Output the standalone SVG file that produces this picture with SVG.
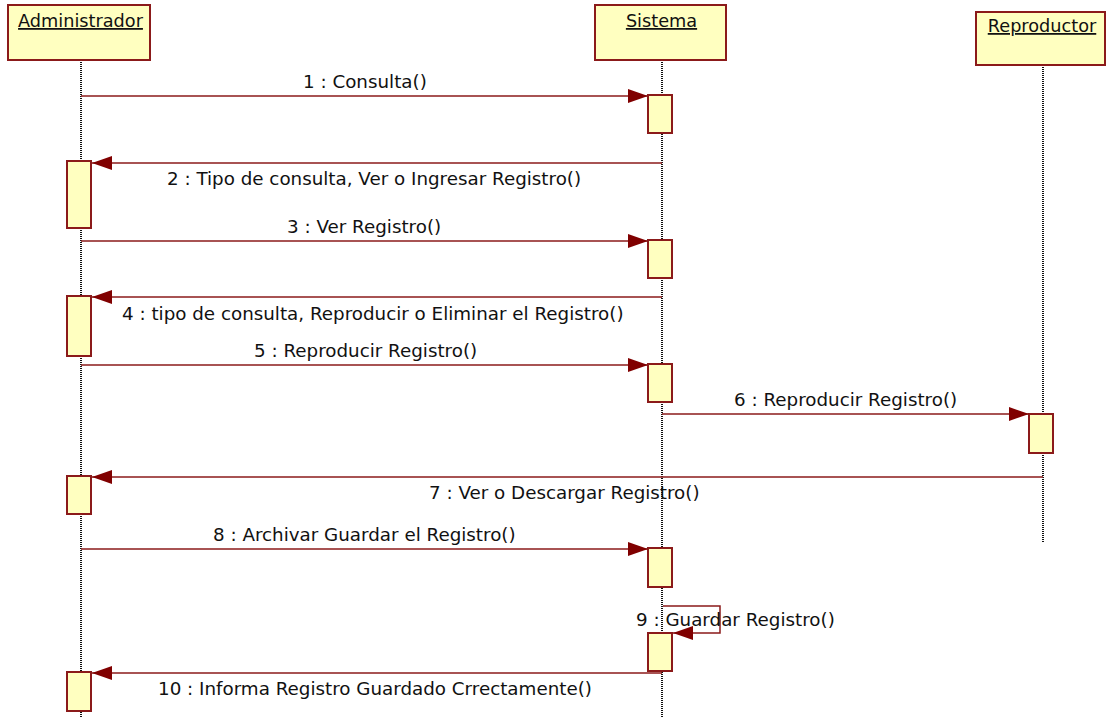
<svg xmlns="http://www.w3.org/2000/svg" width="1106" height="717" viewBox="0 0 1106 717">
  <style>
    .head { fill: #ffffc0; stroke: #8b1a1a; stroke-width: 2; }
    .act { fill: #ffffc0; stroke: #8b1a1a; stroke-width: 2; }
    .life { stroke: #111; stroke-width: 2; stroke-dasharray: 1 1; fill: none; }
    .name { font-family: "DejaVu Sans", Verdana, sans-serif; font-size: 17.7px; fill: #111; text-anchor: middle; text-decoration: underline; }
    .msg { stroke: #8b1a1a; stroke-width: 1.5; fill: none; marker-end: url(#arr); }
    .lbl { font-family: "DejaVu Sans", Verdana, sans-serif; font-size: 18.3px; fill: #111; }
  </style>
  <defs>
    <marker id="arr" markerUnits="userSpaceOnUse" markerWidth="20" markerHeight="14" refX="20" refY="7" orient="auto">
      <path d="M0,0 L20,7 L0,14 Z" fill="#800000"/>
    </marker>
  </defs>
  <rect width="1106" height="717" fill="#ffffff"/>

  <!-- Administrador lifeline -->
  <g id="administrador">
    <line class="life" x1="81" y1="60" x2="81" y2="717"/>
    <rect class="head" x="8" y="5" width="142" height="55"/>
    <text class="name" x="80.5" y="27">Administrador</text>
    <rect class="act" x="67" y="161" width="24" height="67"/>
    <rect class="act" x="67" y="296" width="24" height="60"/>
    <rect class="act" x="67" y="476" width="24" height="38"/>
    <rect class="act" x="67" y="672" width="24" height="39"/>
  </g>

  <!-- Sistema lifeline -->
  <g id="sistema">
    <line class="life" x1="662" y1="60" x2="662" y2="717"/>
    <rect class="head" x="595" y="5" width="131" height="55"/>
    <text class="name" x="661.5" y="27">Sistema</text>
    <rect class="act" x="648" y="95" width="24" height="38"/>
    <rect class="act" x="648" y="240" width="24" height="38"/>
    <rect class="act" x="648" y="364" width="24" height="38"/>
    <rect class="act" x="648" y="548" width="24" height="39"/>
    <rect class="act" x="648" y="633" width="24" height="38"/>
  </g>

  <!-- Reproductor lifeline -->
  <g id="reproductor">
    <line class="life" x1="1043" y1="65" x2="1043" y2="543"/>
    <rect class="head" x="976" y="12" width="129" height="53"/>
    <text class="name" x="1042" y="32">Reproductor</text>
    <rect class="act" x="1029" y="414" width="24" height="39"/>
  </g>

  <!-- Messages -->
  <g id="connectors">
    <line class="msg" x1="81" y1="96" x2="648" y2="96"/>
    <line class="msg" x1="662" y1="163" x2="92" y2="163"/>
    <line class="msg" x1="81" y1="241" x2="648" y2="241"/>
    <line class="msg" x1="662" y1="297" x2="92" y2="297"/>
    <line class="msg" x1="81" y1="365" x2="648" y2="365"/>
    <line class="msg" x1="662" y1="414" x2="1029" y2="414"/>
    <line class="msg" x1="1043" y1="477" x2="92" y2="477"/>
    <line class="msg" x1="81" y1="549" x2="648" y2="549"/>
    <polyline class="msg" points="663,606 720,606 720,633 673,633"/>
    <line class="msg" x1="662" y1="673" x2="92" y2="673"/>

    <text class="lbl" x="303" y="88">1 : Consulta()</text>
    <text class="lbl" x="167" y="185">2 : Tipo de consulta, Ver o Ingresar Registro()</text>
    <text class="lbl" x="287" y="233">3 : Ver Registro()</text>
    <text class="lbl" x="122" y="320">4 : tipo de consulta, Reproducir o Eliminar el Registro()</text>
    <text class="lbl" x="254" y="357">5 : Reproducir Registro()</text>
    <text class="lbl" x="734" y="406">6 : Reproducir Registro()</text>
    <text class="lbl" x="429" y="499">7 : Ver o Descargar Registro()</text>
    <text class="lbl" x="213" y="541">8 : Archivar Guardar el Registro()</text>
    <text class="lbl" x="636" y="626">9 : Guardar Registro()</text>
    <text class="lbl" x="158" y="695">10 : Informa Registro Guardado Crrectamente()</text>
  </g>
</svg>
